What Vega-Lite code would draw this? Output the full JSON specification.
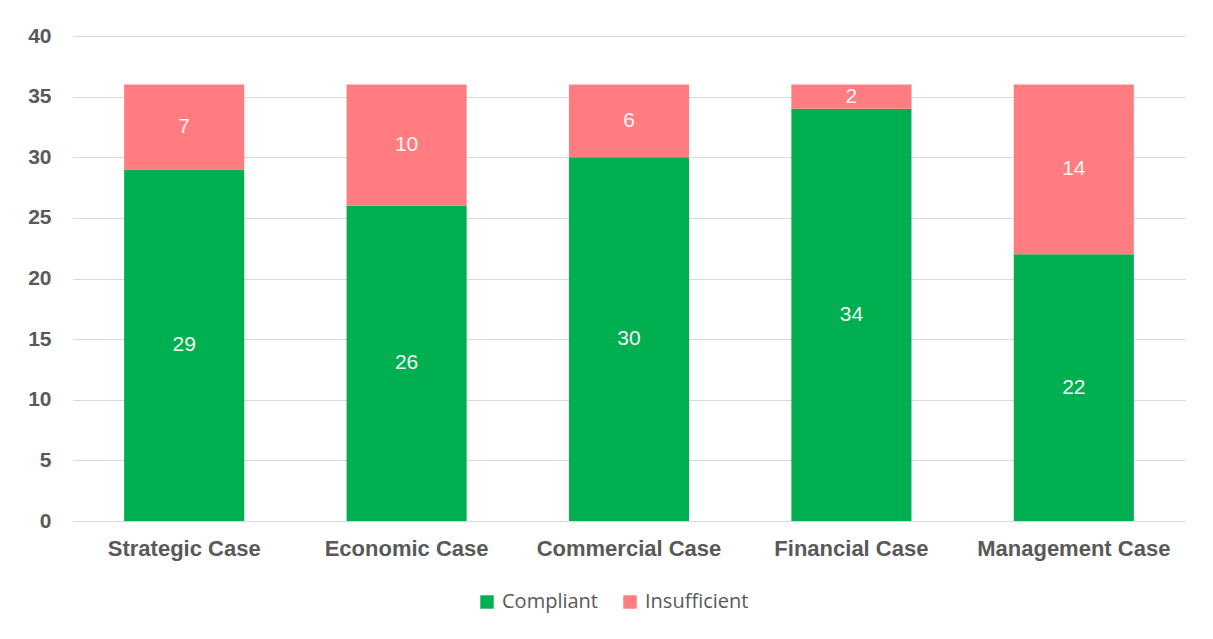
{
  "$schema": "https://vega.github.io/schema/vega-lite/v6.json",
  "width": 1112,
  "height": 485,
  "autosize": "none",
  "padding": {"left": 73, "top": 36, "right": 28, "bottom": 118},
  "background": "white",
  "data": {
    "values": [
      {"case": "Strategic Case", "status": "Compliant", "value": 29},
      {"case": "Strategic Case", "status": "Insufficient", "value": 7},
      {"case": "Economic Case", "status": "Compliant", "value": 26},
      {"case": "Economic Case", "status": "Insufficient", "value": 10},
      {"case": "Commercial Case", "status": "Compliant", "value": 30},
      {"case": "Commercial Case", "status": "Insufficient", "value": 6},
      {"case": "Financial Case", "status": "Compliant", "value": 34},
      {"case": "Financial Case", "status": "Insufficient", "value": 2},
      {"case": "Management Case", "status": "Compliant", "value": 22},
      {"case": "Management Case", "status": "Insufficient", "value": 14}
    ]
  },
  "transform": [
    {"stack": "value", "groupby": ["case"], "sort": [{"field": "status", "order": "ascending"}], "as": ["v0", "v1"]},
    {"calculate": "(datum.v0 + datum.v1) / 2", "as": "vmid"}
  ],
  "encoding": {
    "x": {
      "field": "case",
      "type": "nominal",
      "sort": null,
      "scale": {"paddingInner": 0.46, "paddingOuter": 0.23},
      "axis": {
        "title": null,
        "labelAngle": 0,
        "labelFont": "Liberation Sans",
        "labelFontWeight": "bold",
        "labelFontSize": 22,
        "labelColor": "#595959",
        "labelPadding": 17,
        "labelLimit": 400,
        "labelOverlap": false,
        "domain": false,
        "ticks": false
      }
    }
  },
  "layer": [
    {
      "mark": {"type": "bar"},
      "encoding": {
        "y": {
          "field": "v0",
          "type": "quantitative",
          "scale": {"domain": [0, 40]},
          "axis": {
            "title": null,
            "values": [0, 5, 10, 15, 20, 25, 30, 35, 40],
            "labelFont": "Liberation Sans",
            "labelFontWeight": "bold",
            "labelFontSize": 21,
            "labelColor": "#595959",
            "labelPadding": 22,
            "domain": false,
            "ticks": false,
            "gridColor": "#d9d9d9",
            "gridWidth": 1
          }
        },
        "y2": {"field": "v1"},
        "color": {
          "field": "status",
          "type": "nominal",
          "scale": {"domain": ["Compliant", "Insufficient"], "range": ["#00B050", "#FF7C80"]},
          "legend": {
            "title": null,
            "orient": "none",
            "direction": "horizontal",
            "legendX": 404,
            "legendY": 556,
            "symbolType": "square",
            "symbolSize": 180,
            "symbolStrokeWidth": 0,
            "labelFont": "Open Sans",
            "labelFontSize": 20,
            "labelColor": "#595959",
            "columnPadding": 22,
            "labelOffset": 5
          }
        }
      }
    },
    {
      "mark": {"type": "text", "color": "#f5f5f5", "font": "Liberation Sans", "fontSize": 21, "baseline": "middle", "align": "center"},
      "encoding": {
        "y": {"field": "vmid", "type": "quantitative"},
        "text": {"field": "value", "type": "quantitative"}
      }
    }
  ],
  "config": {
    "view": {"stroke": null}
  }
}
